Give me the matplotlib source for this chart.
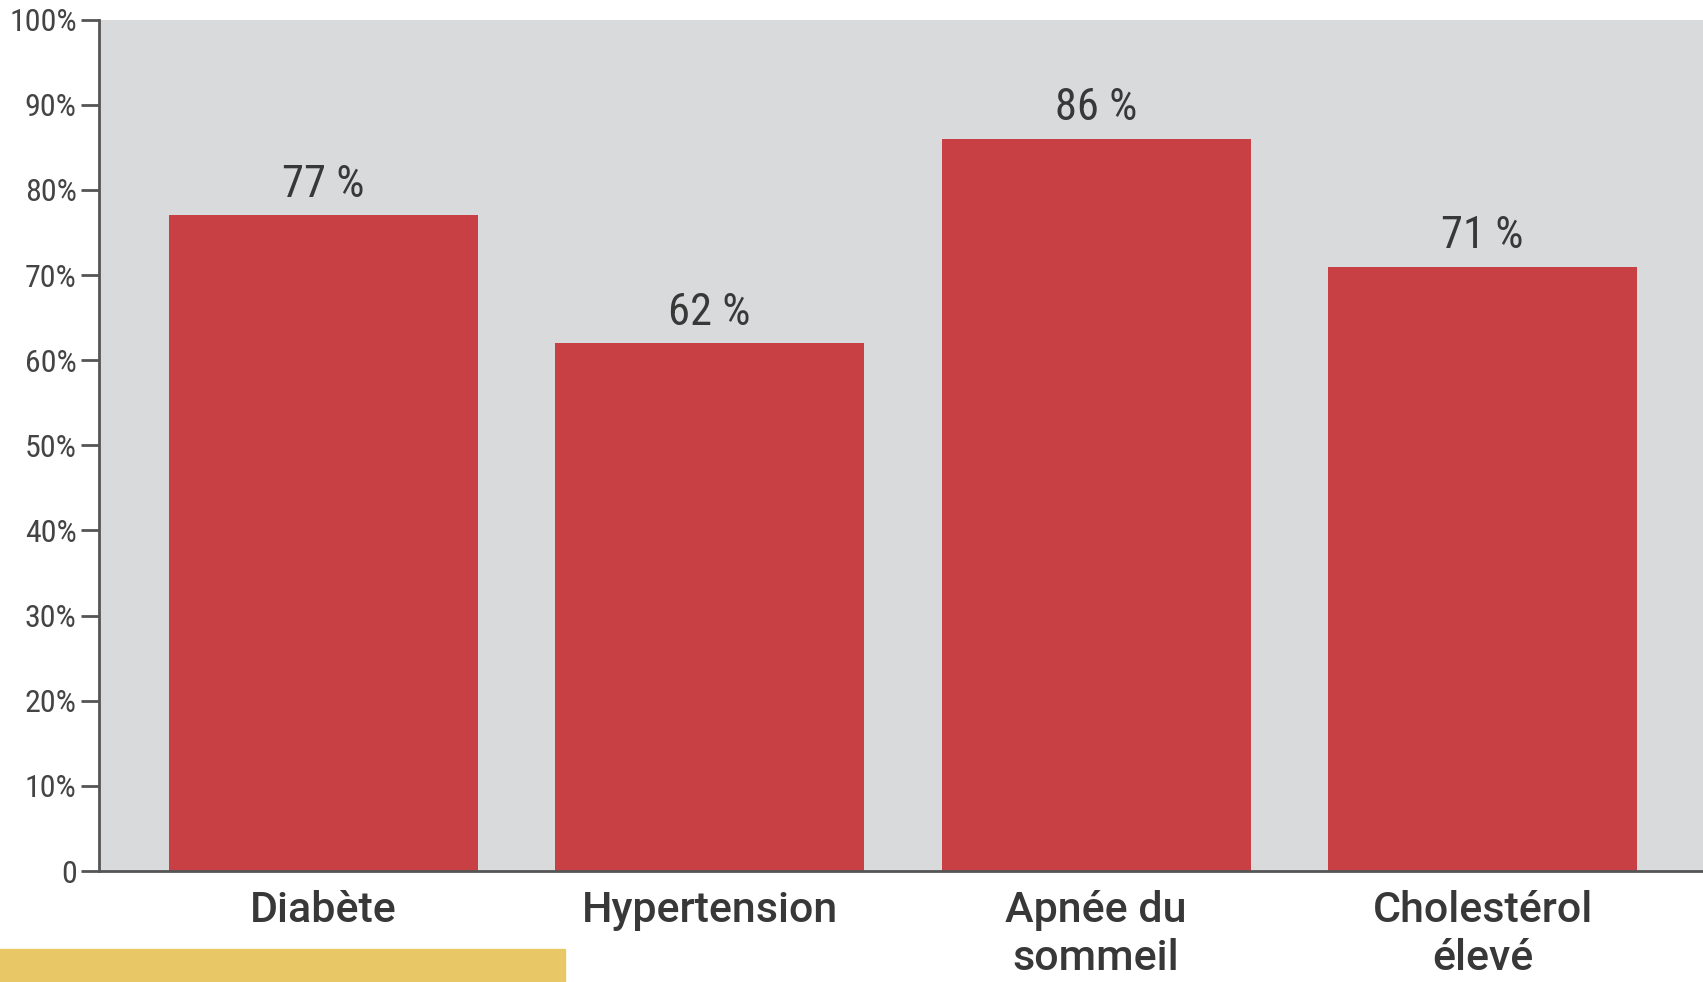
import matplotlib
matplotlib.use("Agg")
import matplotlib.pyplot as plt
from matplotlib.patches import Rectangle

categories = ["Diabète", "Hypertension", "Apnée du\nsommeil", "Cholestérol\nélevé"]
values = [77, 62, 86, 71]
yticks = [0, 10, 20, 30, 40, 50, 60, 70, 80, 90, 100]
ytick_labels = ["0"] + [f"{v}%" for v in yticks[1:]]

plt.rcParams['font.family'] = ['Roboto Condensed', 'Roboto', 'DejaVu Sans']
text_col = "#383838"
bar_col = "#c84043"

fig = plt.figure(figsize=(17.03, 9.82), dpi=100)
ax = fig.add_axes([0.0581, 0.113, 0.9419, 0.867])
ax.set_facecolor("#d9dadc")

x = range(len(categories))
bars = ax.bar(x, values, width=0.8, color=bar_col, zorder=2)
for b, v in zip(bars, values):
    ax.text(b.get_x() + b.get_width() / 2, v + 1.1, f"{v} %", ha="center", va="bottom",
            fontsize=32, color=text_col)

ax.set_xlim(-0.58, 3.57)
ax.set_ylim(0, 100)
ax.set_yticks(yticks)
ax.set_yticklabels(ytick_labels, fontsize=23, color="#444444")
ax.set_xticks(list(x))
ax.set_xticklabels(categories, fontsize=31, family=['Roboto', 'DejaVu Sans'],
                   fontweight="medium", color=text_col, linespacing=1.2)
ax.tick_params(axis="x", length=0, pad=14)
ax.tick_params(axis="y", length=13, width=2, color="#555555", pad=3)

for s in ["top", "right"]:
    ax.spines[s].set_visible(False)
for s in ["left", "bottom"]:
    ax.spines[s].set_color("#555555")
    ax.spines[s].set_linewidth(2)

# yellow strip along the bottom edge
fig.patches.append(Rectangle((0, 0), 0.332, 0.034, transform=fig.transFigure,
                             color="#e8c766", zorder=0))

fig.savefig("out.png", dpi=100, facecolor="white")
